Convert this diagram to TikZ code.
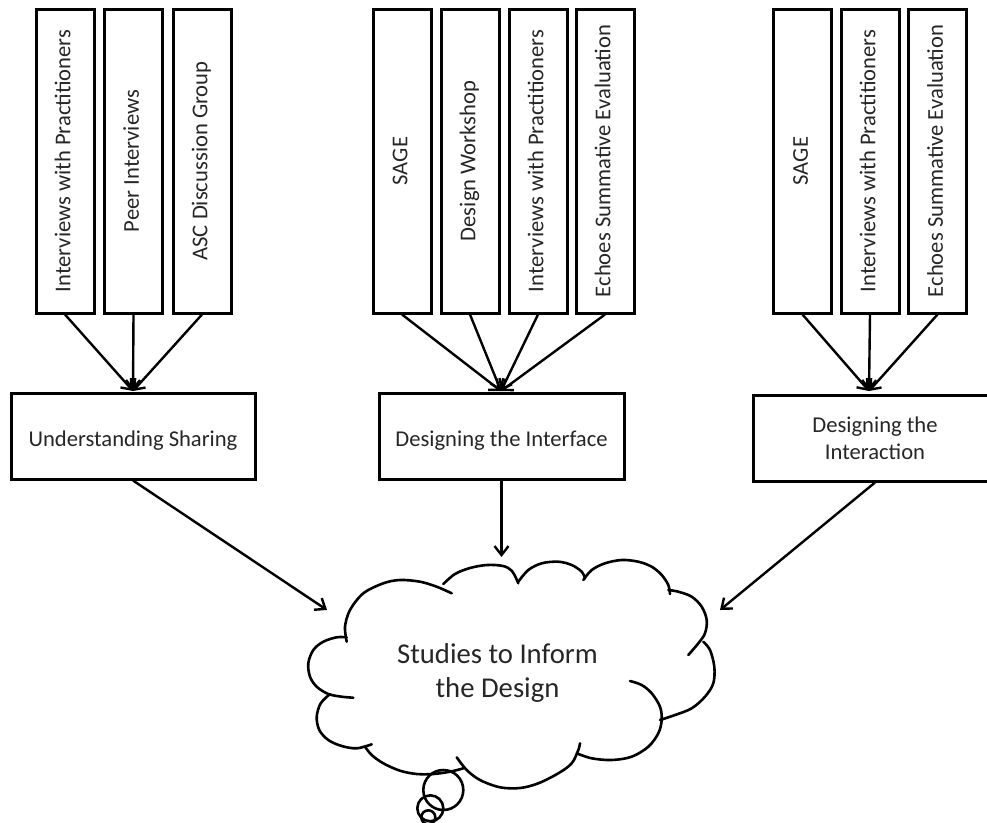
\documentclass[tikz,border=0pt]{standalone}
\usepackage{fontspec}
\setmainfont{Carlito}
\usetikzlibrary{arrows.meta}
\begin{document}
\begin{tikzpicture}[x=1pt,y=-1pt,
  vbox/.style={draw, line width=3pt, minimum width=58pt, minimum height=304pt, inner sep=0pt,
    font=\fontsize{22.6}{26.5}\selectfont, text=black!85},
  hbox/.style={draw, line width=3pt, minimum width=244pt, minimum height=86pt, inner sep=0pt,
    align=center, font=\fontsize{22.6}{26.5}\selectfont, text=black!85},
  arr/.style={line width=2.4pt, -{Straight Barb[length=9pt,width=14pt]}},
  cloudline/.style={line width=2.6pt, line cap=round, line join=round},
  ptsmooth/.style={smooth, tension=0.55}
]
\useasboundingbox (0,0) rectangle (987,822);
\clip (0,0) rectangle (987,822);

% ---- top boxes, group 1
\node[vbox] (a1) at (65,161)    {\rotatebox{90}{\strut Interviews with Practitioners}};
\node[vbox] (a2) at (133.5,161) {\rotatebox{90}{\strut Peer Interviews}};
\node[vbox] (a3) at (202,161)   {\rotatebox{90}{\strut ASC Discussion Group}};
% ---- group 2
\node[vbox] (b1) at (402,161) {\rotatebox{90}{\strut SAGE}};
\node[vbox] (b2) at (470,161) {\rotatebox{90}{\strut Design Workshop}};
\node[vbox] (b3) at (538,161) {\rotatebox{90}{\strut Interviews with Practitioners}};
\node[vbox] (b4) at (605,161) {\rotatebox{90}{\strut Echoes Summative Evaluation}};
% ---- group 3
\node[vbox] (c1) at (802.5,161) {\rotatebox{90}{\strut SAGE}};
\node[vbox] (c2) at (870,161)   {\rotatebox{90}{\strut Interviews with Practitioners}};
\node[vbox] (c3) at (937.5,161) {\rotatebox{90}{\strut Echoes Summative Evaluation}};

% ---- middle boxes
\node[hbox, text height=21pt, text depth=0pt] (U) at (133,436) {Understanding Sharing};
\node[hbox, minimum width=245pt, text height=21pt, text depth=0pt] (D) at (501.5,436) {Designing the Interface};
\node[hbox] (N) at (875,438) {Designing the\\Interaction};

% ---- convergence points
\coordinate (pU) at (133,391);
\coordinate (pD) at (501,391);
\coordinate (pN) at (869,391);

\foreach \n in {a1,a2,a3} \draw[arr] (\n.south) -- (pU);
\foreach \n in {b1,b2,b3,b4} \draw[arr] (\n.south) -- (pD);
\foreach \n in {c1,c2,c3} \draw[arr] (\n.south) -- (pN);

% ---- cloud
\begin{scope}[cloudline]
\draw plot[ptsmooth] coordinates {(346.7,641.7) (345,626.7) (350,610) (363.3,593.3) (383.3,583.3) (400,580) (420,581.7) (436.7,586.7) (451.7,593.3)};
\draw plot[ptsmooth] coordinates {(346.7,637.3) (336.7,637.3) (323.3,641.7) (313.3,650) (308.3,663.3) (310,676.7) (316.7,686.7) (328.3,694) (341.7,696.7) (353.3,697.7)};
\draw plot[ptsmooth] coordinates {(330,694) (320.7,703.3) (316.7,716.7) (319.3,730) (328.3,740) (341.7,746) (356.7,748.3) (371.7,744.3)};
\draw plot[ptsmooth] coordinates {(365,746.7) (371.7,755) (383.3,763.3) (400,770.7) (416.7,774) (433.3,774) (450,771.7) (463.3,768.3)};
\draw plot[ptsmooth] coordinates {(456.7,757.3) (466.7,770) (480,780) (500,787.3) (520,788) (538.3,783.3) (558.3,773.3) (571.7,763.3) (578.3,750) (580,743.3)};
\draw plot[ptsmooth] coordinates {(576.7,753.3) (591.7,758.3) (611.7,760) (631.7,756.7) (648.3,746.7) (658.3,733.3) (661.7,720) (660,706.7) (651.7,693.3) (641.7,685) (630,681)};
\draw plot[ptsmooth] coordinates {(660,720) (675,715) (691.7,708.3) (705,696.7) (713.3,683.3) (714.3,666.7) (710,650) (703.3,641.7)};
\draw plot[ptsmooth] coordinates {(688.3,655) (698.3,643.3) (705,633.3) (706.7,620) (701.7,606.7) (691.7,596.7) (678.3,591.7) (668.3,590)};
\draw plot[ptsmooth] coordinates {(583.3,580) (591.7,570) (605,563.3) (621.7,560) (638.3,561.7) (651.7,566.7) (661.7,575) (668.3,585) (670,594)};
\draw plot[ptsmooth] coordinates {(518.3,581.7) (528.3,570) (541.7,563.3) (558.3,561.7) (571.7,565) (581.7,571.7) (585,578.3)};
\draw plot[ptsmooth] coordinates {(443.3,584) (455,574) (470,568) (487,565) (503,566) (512,571) (518.3,583.3)};
% thought bubbles
\draw (443.3,790) circle[radius=20pt];
\draw (430.3,808.3) circle[radius=13pt];
\draw (428.3,817.3) circle[radius=7pt];
\end{scope}

\node[font=\fontsize{28.7}{34.5}\selectfont, align=center, text=black!85] (S) at (497.5,673) {Studies to Inform\\the Design};

% ---- arrows to the cloud
\coordinate (eU) at (327,610);
\coordinate (eD) at (501.5,557);
\coordinate (eN) at (720,610);
\draw[arr] (U.south) -- (eU);
\draw[arr] (D.south) -- (eD);
\draw[arr] (N.south) -- (eN);
\end{tikzpicture}
\end{document}
